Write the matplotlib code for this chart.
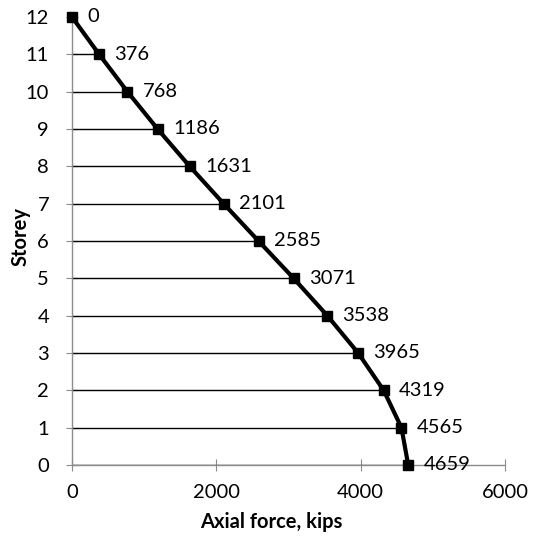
import matplotlib
matplotlib.use("Agg")
import matplotlib.pyplot as plt

storeys = [12, 11, 10, 9, 8, 7, 6, 5, 4, 3, 2, 1, 0]
axial_force = [0, 376, 768, 1186, 1631, 2101, 2585, 3071, 3538, 3965, 4319, 4565, 4659]
x_ticks = [0, 2000, 4000, 6000]
y_ticks = list(range(0, 13))

plt.rcParams['font.family'] = ['Lato', 'DejaVu Sans']

fig = plt.figure(figsize=(5.36, 5.38), dpi=100)
ax = fig.add_axes([72/536, 1-465/538, 433/536, 448/538])

ax.hlines(storeys, 0, axial_force, colors='black', linewidth=1.0, zorder=2)
ax.plot(axial_force, storeys, color='black', linewidth=3, marker='s', markersize=7, zorder=3, clip_on=False)
for xv, yv in zip(axial_force, storeys):
    ax.annotate(f"{xv}", (xv, yv), xytext=(11, 0), textcoords='offset points',
                ha='left', va='center', fontsize=14.5, clip_on=False)

ax.set_xlim(0, 6000)
ax.set_ylim(0, 12)
ax.set_xticks(x_ticks)
ax.set_yticks(y_ticks)
for s in ['top', 'right']:
    ax.spines[s].set_visible(False)
for s in ['left', 'bottom']:
    ax.spines[s].set_color('#8c8c8c')
    ax.spines[s].set_linewidth(1.0)
ax.tick_params(axis='both', direction='inout', length=9, color='#8c8c8c', labelsize=14.5)
ax.tick_params(axis='y', pad=12)
ax.tick_params(axis='x', pad=9)
ax.set_xlabel('Axial force, kips', fontsize=14.5, fontweight='bold')
ax.set_ylabel('Storey', fontsize=14.5, fontweight='bold')
ax.xaxis.set_label_coords(0.46, -0.105)
ax.yaxis.set_label_coords(-0.095, 0.51)

fig.savefig('out.png', dpi=100)
